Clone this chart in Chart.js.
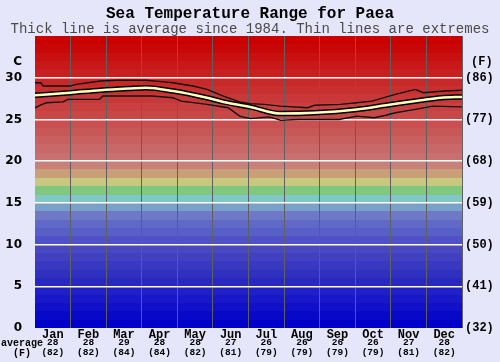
<!DOCTYPE html>
<html>
<head>
<meta charset="utf-8">
<script src="https://cdn.jsdelivr.net/npm/chart.js@4/dist/chart.umd.min.js"></script>
<style>
  html, body { margin: 0; padding: 0; background: #e6e6fa; }
  canvas { display: block; }
</style>
</head>
<body>
<canvas id="sea-chart" width="500" height="362"></canvas>
<script>
// month labels and monthly averages shown under the axis
const months = ['Jan', 'Feb', 'Mar', 'Apr', 'May', 'Jun', 'Jul', 'Aug', 'Sep', 'Oct', 'Nov', 'Dec'];
const avgC = [28, 28, 29, 28, 28, 27, 26, 26, 26, 26, 27, 28];
const avgF = [82, 82, 84, 84, 82, 81, 79, 79, 79, 79, 81, 82];

// average line (day of year, deg C)
const avgDays = [0, 30, 56, 80, 95, 118, 147, 161, 184, 210, 239, 275, 300, 330, 347, 365];
const avgTemps = [27.9, 28.2, 28.5, 28.7, 28.8, 28.4, 27.6, 27.1, 26.5, 25.7, 25.8, 26.2, 26.7, 27.3, 27.6, 27.7];

// highest recorded
const maxDays = [0, 5, 7, 30, 35, 56, 70, 95, 110, 118, 135, 147, 161, 175, 184, 196, 210, 233, 239, 261, 275, 288, 308, 325, 332, 350, 365];
const maxTemps = [29.4, 29.4, 29.0, 29.0, 29.2, 29.6, 29.7, 29.7, 29.5, 29.4, 29.0, 28.6, 27.8, 27.1, 26.9, 26.8, 26.6, 26.4, 26.7, 26.8, 27.0, 27.2, 28.0, 28.6, 28.2, 28.4, 28.5];

// lowest recorded
const minDays = [0, 6, 10, 24, 28, 55, 58, 100, 118, 125, 147, 165, 175, 184, 200, 210, 225, 260, 275, 290, 300, 308, 325, 340, 365];
const minTemps = [26.4, 26.8, 27.0, 27.1, 27.4, 27.4, 27.8, 27.8, 27.6, 27.2, 26.8, 26.4, 25.4, 25.1, 25.3, 24.9, 25.0, 25.0, 25.4, 25.2, 25.5, 25.8, 26.2, 26.6, 26.5];

// one colour per degree band, 0-1 C up to 34-35 C
const bandColors = [
  '#0000c8', '#0808c8', '#1010c8', '#1818c8', '#2020c8',
  '#2828c0', '#3030c0', '#3838c0', '#4040c0', '#4848c0',
  '#5050c8', '#5860c8', '#6068c8', '#7078c8', '#78a0c8',
  '#80c8c8', '#80c880', '#c8c880', '#c8a078', '#c88078',
  '#c87070', '#c86868', '#c86060', '#c85858', '#c85050',
  '#c84848', '#c84040', '#c83838', '#c83030', '#c82828',
  '#c82020', '#c81818', '#c81010', '#c80808', '#cc0000'
];

const toPoints = (days, temps) => days.map((d, i) => ({x: d, y: temps[i]}));

const bandsPlugin = {
  id: 'bands',
  beforeDraw(chart) {
    const {ctx, chartArea: a, scales: {y}} = chart;
    ctx.save();
    bandColors.forEach((c, t) => {
      const top = Math.round(y.getPixelForValue(t + 1));
      const bottom = Math.round(y.getPixelForValue(t));
      ctx.fillStyle = c;
      ctx.fillRect(a.left, top, a.right - a.left, bottom - top);
    });
    ctx.restore();
  }
};

const textPlugin = {
  id: 'extraText',
  afterDraw(chart) {
    const {ctx, scales: {x}} = chart;
    ctx.save();
    ctx.fillStyle = '#000';
    ctx.textBaseline = 'middle';
    ctx.font = 'bold 12px "DejaVu Sans"';
    ctx.textAlign = 'right';
    ctx.fillText('C', 22, 62);
    ctx.font = 'bold 12px "Liberation Mono"';
    ctx.textAlign = 'left';
    ctx.fillText('(F)', 471, 62);
    ctx.textAlign = 'center';
    ctx.font = 'bold 10px "Liberation Mono"';
    ctx.fillText('average', 22, 343);
    ctx.fillText('(F)', 22, 353);
    ctx.font = 'bold 9.5px "Liberation Mono"';
    months.forEach((m, i) => {
      const px = x.getPixelForValue(i);
      ctx.fillText(String(avgC[i]), px, 343);
      ctx.fillText('(' + avgF[i] + ')', px, 353);
    });
    ctx.restore();
  }
};

new Chart(document.getElementById('sea-chart'), {
  type: 'line',
  data: {
    labels: months,
    datasets: [
      {
        data: toPoints(avgDays, avgTemps), xAxisID: 'xd', order: 0,
        borderColor: '#ffffc0', borderWidth: 2.5, pointRadius: 0,
        cubicInterpolationMode: 'monotone'
      },
      {
        data: toPoints(avgDays, avgTemps), xAxisID: 'xd', order: 1,
        borderColor: '#000', borderWidth: 5.5, pointRadius: 0,
        cubicInterpolationMode: 'monotone'
      },
      {
        data: toPoints(maxDays, maxTemps), xAxisID: 'xd', order: 2,
        borderColor: '#111', borderWidth: 1.4, pointRadius: 0, tension: 0
      },
      {
        data: toPoints(minDays, minTemps), xAxisID: 'xd', order: 2,
        borderColor: '#111', borderWidth: 1.4, pointRadius: 0, tension: 0
      }
    ]
  },
  options: {
    responsive: false,
    animation: false,
    devicePixelRatio: 1,
    layout: { padding: 0 },
    plugins: {
      legend: { display: false },
      tooltip: { enabled: false },
      title: {
        display: true,
        text: 'Sea Temperature Range for Paea',
        color: '#000',
        font: { family: 'Liberation Mono', size: 16, weight: 'bold', lineHeight: 1 },
        padding: { top: 6, bottom: 0 }
      },
      subtitle: {
        display: true,
        text: 'Thick line is average since 1984. Thin lines are extremes',
        color: '#4a4a4a',
        font: { family: 'Liberation Mono', size: 14, lineHeight: 1 },
        padding: { top: 0, bottom: 0 }
      }
    },
    scales: {
      x: {
        type: 'category',
        offset: true,
        grid: {
          offset: true,
          drawTicks: false,
          lineWidth: 1,
          color: ctx => (ctx.index === 0 || ctx.index >= 12) ? 'rgba(0,0,0,0)' : '#606060'
        },
        border: { display: false },
        ticks: {
          color: '#000', padding: 0, maxRotation: 0,
          font: { family: 'Liberation Mono', size: 12, weight: 'bold' }
        },
        afterFit: s => { s.height = 34; }
      },
      xd: { type: 'linear', display: false, min: 0, max: 365 },
      y: {
        position: 'left',
        min: 0, max: 35,
        grid: {
          drawTicks: false,
          lineWidth: 1.5,
          color: ctx => (ctx.tick && (ctx.tick.value === 0 || ctx.tick.value === 35)) ? 'rgba(0,0,0,0)' : '#ffffff'
        },
        border: { display: false },
        ticks: {
          stepSize: 5, padding: 13, color: '#000',
          font: { family: 'DejaVu Sans', size: 12, weight: 'bold' },
          callback: v => v === 35 ? '' : String(v)
        },
        afterFit: s => { s.width = 35; }
      },
      y2: {
        position: 'right',
        min: 0, max: 35,
        grid: { display: false, drawTicks: false },
        border: { display: false },
        ticks: {
          stepSize: 5, padding: 3, color: '#000',
          font: { family: 'Liberation Mono', size: 12, weight: 'bold' },
          callback: v => v === 35 ? '' : '(' + Math.round(v * 9 / 5 + 32) + ')'
        },
        afterFit: s => { s.width = 38; }
      }
    }
  },
  plugins: [bandsPlugin, textPlugin]
});
</script>
</body>
</html>
